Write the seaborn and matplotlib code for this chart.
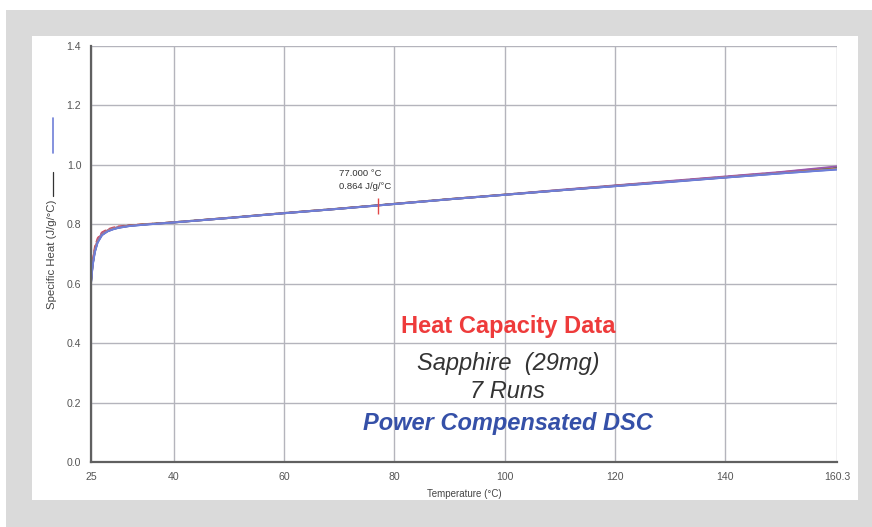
import numpy as np
import pandas as pd
import matplotlib
matplotlib.use("Agg")
import matplotlib.pyplot as plt
from matplotlib.patches import Rectangle
from matplotlib.lines import Line2D
import seaborn as sns

# temperature grid (°C) and specific heat of the 7 runs (J/g/°C)
temps = [25, 25.3, 25.7, 26.2, 27, 28, 29, 30, 32, 35, 40, 50, 60, 70, 77,
         80, 90, 100, 110, 120, 130, 140, 150, 160.3]
run_1 = [0.600, 0.660, 0.705, 0.738, 0.763, 0.776, 0.783, 0.788, 0.794, 0.799, 0.806, 0.821,
         0.837, 0.852, 0.863, 0.868, 0.884, 0.899, 0.914, 0.928, 0.943, 0.957, 0.971, 0.985]
run_2 = [0.612, 0.678, 0.724, 0.753, 0.773, 0.783, 0.789, 0.793, 0.797, 0.801, 0.807, 0.822,
         0.838, 0.853, 0.864, 0.869, 0.885, 0.900, 0.915, 0.930, 0.945, 0.960, 0.975, 0.993]
run_3 = [0.606, 0.668, 0.714, 0.745, 0.768, 0.779, 0.786, 0.790, 0.796, 0.800, 0.807, 0.822,
         0.838, 0.853, 0.864, 0.869, 0.885, 0.900, 0.915, 0.930, 0.944, 0.959, 0.974, 0.990]
run_4 = [0.603, 0.664, 0.709, 0.741, 0.765, 0.777, 0.784, 0.789, 0.795, 0.800, 0.806, 0.821,
         0.837, 0.852, 0.864, 0.868, 0.884, 0.899, 0.914, 0.929, 0.944, 0.958, 0.973, 0.988]
run_5 = [0.608, 0.671, 0.717, 0.748, 0.770, 0.780, 0.787, 0.791, 0.796, 0.800, 0.807, 0.822,
         0.838, 0.853, 0.864, 0.869, 0.885, 0.900, 0.916, 0.931, 0.946, 0.961, 0.976, 0.995]
run_6 = [0.604, 0.666, 0.711, 0.743, 0.766, 0.778, 0.785, 0.789, 0.795, 0.800, 0.806, 0.821,
         0.837, 0.852, 0.863, 0.868, 0.884, 0.899, 0.914, 0.929, 0.943, 0.958, 0.972, 0.987]
run_7 = [0.601, 0.662, 0.707, 0.739, 0.764, 0.776, 0.783, 0.788, 0.794, 0.799, 0.806, 0.821,
         0.837, 0.852, 0.863, 0.868, 0.884, 0.899, 0.914, 0.928, 0.942, 0.957, 0.971, 0.984]
runs = {"Run 1": run_1, "Run 2": run_2, "Run 3": run_3, "Run 4": run_4,
        "Run 5": run_5, "Run 6": run_6, "Run 7": run_7}
run_colors = ["#6f7fd8", "#e24848", "#4a9a4a", "#404040", "#9a5ab0", "#e09040", "#5b6fd6"]

x_ticks = [25, 40, 60, 80, 100, 120, 140, 160.3]
x_ticklabels = ["25", "40", "60", "80", "100", "120", "140", "160.3"]
y_ticks = [0.0, 0.2, 0.4, 0.6, 0.8, 1.0, 1.2, 1.4]

cursor_t = 77.0
cursor_cp = 0.864

# long form table for seaborn
df = pd.concat([pd.DataFrame({"T": temps, "cp": v, "run": k}) for k, v in runs.items()],
               ignore_index=True)

sns.set_style("white")
plt.rcParams["font.family"] = ["Liberation Sans", "DejaVu Sans"]

fig = plt.figure(figsize=(8.72, 5.27), dpi=100)
fig.patch.set_facecolor("white")
# grey frame + white panel behind the chart
fig.add_artist(Rectangle((6 / 872, 0), 1, 517 / 527, transform=fig.transFigure,
                         facecolor="#dadada", edgecolor="none", zorder=-2))
fig.add_artist(Rectangle((32 / 872, 27 / 527), 826 / 872, 464 / 527, transform=fig.transFigure,
                         facecolor="white", edgecolor="none", zorder=-1))

ax = fig.add_axes([91 / 872, 65 / 527, 746 / 872, 416 / 527])
ax.set_facecolor("none")

# blue run drawn last so it sits on top, run 2 dashed red
order = ["Run 2", "Run 3", "Run 4", "Run 5", "Run 6", "Run 7", "Run 1"]
pal = dict(zip(runs.keys(), run_colors))
for k in order:
    sub = df[df["run"] == k]
    sns.lineplot(data=sub, x="T", y="cp", color=pal[k], ax=ax, lw=1.3, legend=False,
                 linestyle="--" if k == "Run 2" else "-")

ax.set_xlim(x_ticks[0], x_ticks[-1])
ax.set_ylim(0, 1.4)
ax.set_xticks(x_ticks)
ax.set_xticklabels(x_ticklabels)
ax.set_yticks(y_ticks)
ax.set_yticklabels([f"{v:.1f}" for v in y_ticks])
ax.grid(True, color="#b4b4bc", lw=1.0)
ax.set_axisbelow(True)
for s in ["top", "right"]:
    ax.spines[s].set_visible(False)
for s in ["left", "bottom"]:
    ax.spines[s].set_color("#606060")
    ax.spines[s].set_linewidth(1.6)
ax.tick_params(axis="both", length=3, width=1, color="#606060", labelsize=7.6,
               labelcolor="#555555", pad=4)

ax.set_xlabel("Temperature (°C)", fontsize=7, color="#444444", labelpad=5)
ax.set_ylabel("Specific Heat (J/g/°C)", fontsize=8.2, color="#444444")
ax.yaxis.set_label_coords(-0.046, 0.50)

# legend-like line samples next to the y label
fig.add_artist(Line2D([53 / 872, 53 / 872], [1 - 118 / 527, 1 - 153 / 527],
                      transform=fig.transFigure, color="#6f7fd8", lw=1.2))
fig.add_artist(Line2D([53 / 872, 53 / 872], [1 - 172 / 527, 1 - 196 / 527],
                      transform=fig.transFigure, color="#333333", lw=0.9))

# cursor readout
ax.vlines(cursor_t, cursor_cp - 0.03, cursor_cp + 0.025, color="#e24848", lw=1.0, zorder=5)
ax.text(cursor_t - 7.1, cursor_cp + 0.10, f"{cursor_t:.3f} °C", fontsize=6.8, color="#333333")
ax.text(cursor_t - 7.1, cursor_cp + 0.055, f"{cursor_cp:.3f} J/g/°C", fontsize=6.8, color="#333333")

# annotation block
ax.text(100.6, 0.457, "Heat Capacity Data", ha="center", va="center", fontsize=17,
        fontweight="bold", color="#ee3b3b")
ax.text(100.6, 0.332, "Sapphire  (29mg)", ha="center", va="center", fontsize=17,
        style="italic", color="#333333")
ax.text(100.6, 0.238, "7 Runs", ha="center", va="center", fontsize=17,
        style="italic", color="#333333")
ax.text(100.6, 0.130, "Power Compensated DSC", ha="center", va="center", fontsize=17,
        fontweight="bold", style="italic", color="#3550a8")

fig.savefig("out.png", dpi=100)
